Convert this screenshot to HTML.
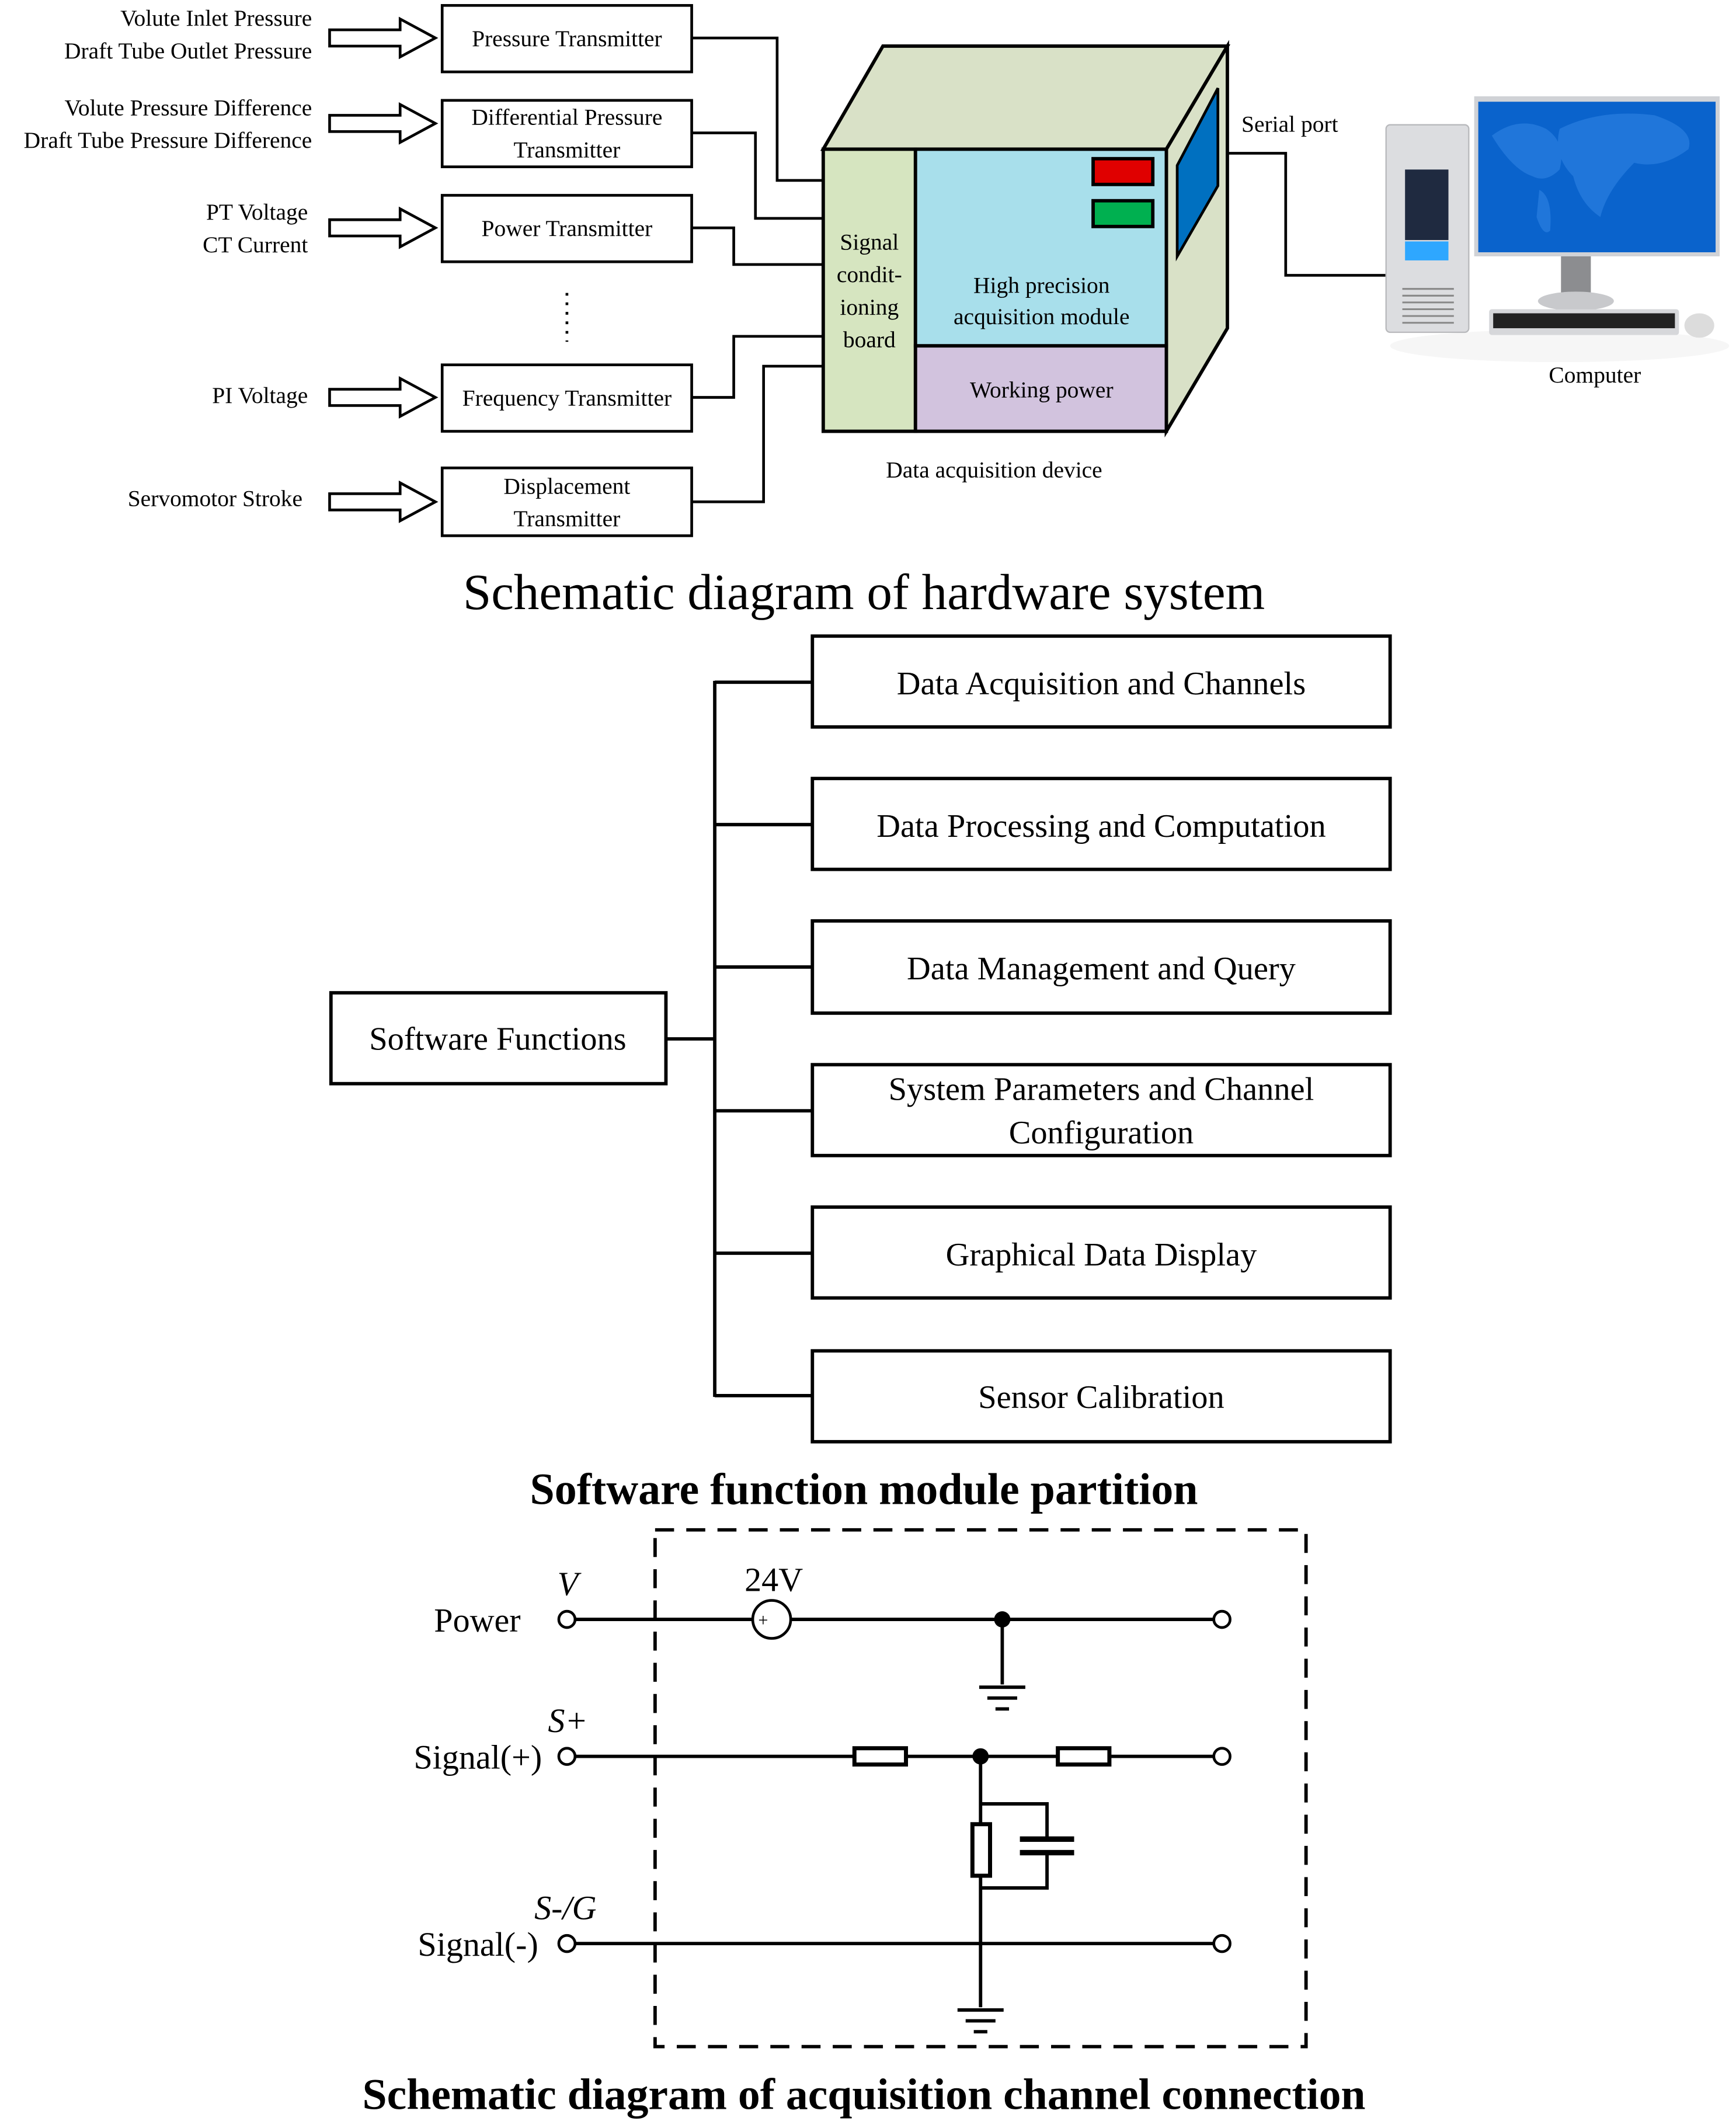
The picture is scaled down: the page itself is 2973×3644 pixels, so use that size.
<!DOCTYPE html>
<html><head><meta charset="utf-8"><style>
html,body{margin:0;padding:0;background:#fff;}
svg{display:block;}
text{font-family:"Liberation Serif",serif;fill:#000;}
</style></head><body>
<svg width="2973" height="3644" viewBox="0 0 1280 1569" xmlns="http://www.w3.org/2000/svg">
<rect width="1280" height="1569" fill="#fff"/>
<defs>
<g id="arr"><polygon points="0,-6 52,-6 52,-14 78,0 52,14 52,6 0,6" fill="#fff" stroke="#000" stroke-width="2"/></g>
</defs>
<g font-size="17" text-anchor="end">
<text x="230" y="19">Volute Inlet Pressure</text>
<text x="230" y="43">Draft Tube Outlet Pressure</text>
<text x="230" y="85">Volute Pressure Difference</text>
<text x="230" y="109">Draft Tube Pressure Difference</text>
<text x="227" y="162">PT Voltage</text>
<text x="227" y="186">CT Current</text>
<text x="227" y="297">PI Voltage</text>
<text x="223" y="373">Servomotor Stroke</text>
</g>
<use href="#arr" x="243" y="28"/>
<use href="#arr" x="243" y="91"/>
<use href="#arr" x="243" y="168"/>
<use href="#arr" x="243" y="293"/>
<use href="#arr" x="243" y="370"/>
<g fill="#fff" stroke="#000" stroke-width="2">
<rect x="326" y="4" width="184" height="49"/>
<rect x="326" y="74" width="184" height="49"/>
<rect x="326" y="144" width="184" height="49"/>
<rect x="326" y="269" width="184" height="49"/>
<rect x="326" y="345" width="184" height="50"/>
</g>
<g font-size="17" text-anchor="middle">
<text x="418" y="34">Pressure Transmitter</text>
<text x="418" y="92">Differential Pressure</text>
<text x="418" y="116">Transmitter</text>
<text x="418" y="174">Power Transmitter</text>
<text x="418" y="299">Frequency Transmitter</text>
<text x="418" y="364">Displacement</text>
<text x="418" y="388">Transmitter</text>
</g>
<line x1="418" y1="216" x2="418" y2="252" stroke="#000" stroke-width="2" stroke-dasharray="2,5"/>
<g fill="none" stroke="#000" stroke-width="2">
<polyline points="510,28 573,28 573,133 607,133"/>
<polyline points="510,98 557,98 557,161 607,161"/>
<polyline points="510,168 541,168 541,195 607,195"/>
<polyline points="510,293 541,293 541,248 607,248"/>
<polyline points="510,370 563,370 563,270 607,270"/>
<polyline points="905,113 948,113 948,203 1025,203"/>
</g>
<g stroke="#000" stroke-width="2.5">
<polygon points="607,110 651,34 905,34 860,110" fill="#d9e1c7"/>
<polygon points="860,110 905,34 905,242 860,318" fill="#d9e1c7"/>
<rect x="607" y="110" width="68" height="208" fill="#d6e5c0"/>
<rect x="675" y="110" width="185" height="145" fill="#a8dfeb"/>
<rect x="675" y="255" width="185" height="63" fill="#d2c3de"/>
<polygon points="868,122 898,65 898,137 868,189" fill="#0070c0" stroke-width="2"/>
<rect x="806" y="117" width="44" height="19" fill="#e00000"/>
<rect x="806" y="148" width="44" height="19" fill="#00b050"/>
</g>
<g font-size="17" text-anchor="middle">
<text x="641" y="184">Signal</text>
<text x="641" y="208">condit-</text>
<text x="641" y="232">ioning</text>
<text x="641" y="256">board</text>
<text x="768" y="216">High precision</text>
<text x="768" y="239">acquisition module</text>
<text x="768" y="293">Working power</text>
<text x="733" y="352">Data acquisition device</text>
<text x="951" y="97">Serial port</text>
<text x="1176" y="282">Computer</text>
</g>
<ellipse cx="1150" cy="255" rx="125" ry="12" fill="#f6f6f6"/>
<rect x="1022" y="92" width="61" height="153" rx="3" fill="#dcdde0" stroke="#b8b9bc"/>
<rect x="1036" y="125" width="32" height="52" fill="#1f2a40"/>
<rect x="1036" y="178" width="32" height="14" fill="#2ea7ff"/>
<g stroke="#888" stroke-width="1.3">
<line x1="1034" y1="213" x2="1072" y2="213"/><line x1="1034" y1="218" x2="1072" y2="218"/><line x1="1034" y1="223" x2="1072" y2="223"/><line x1="1034" y1="228" x2="1072" y2="228"/><line x1="1034" y1="233" x2="1072" y2="233"/><line x1="1034" y1="238" x2="1072" y2="238"/>
</g>
<rect x="1087" y="71" width="181" height="118" fill="#d0d2d6"/>
<rect x="1090" y="75" width="175" height="111" fill="#0a63cc"/>
<path d="M1100,100 q20,-15 40,-5 q15,10 10,30 q-10,10 -20,5 q-15,-5 -30,-30 Z M1150,95 q30,-15 70,-10 q30,10 25,25 q-20,15 -40,10 q-20,20 -25,40 q-15,-10 -20,-30 q-15,-15 -10,-35 Z M1135,140 q10,5 8,30 q-5,5 -10,-10 Z" fill="#2a7fe0" opacity="0.7"/>
<rect x="1151" y="189" width="22" height="30" fill="#8c8d90"/>
<ellipse cx="1162" cy="222" rx="28" ry="7" fill="#c8c9cc"/>
<rect x="1098" y="228" width="140" height="19" rx="2" fill="#d6d7da"/>
<rect x="1101" y="231" width="134" height="11" fill="#222"/>
<ellipse cx="1253" cy="240" rx="11" ry="9" fill="#dcdcdc"/>
<text x="637" y="449" font-size="37.5" text-anchor="middle">Schematic diagram of hardware system</text>
<g fill="#fff" stroke="#000" stroke-width="2.5">
<rect x="599" y="469" width="426" height="67"/>
<rect x="599" y="574" width="426" height="67"/>
<rect x="599" y="679" width="426" height="68"/>
<rect x="599" y="785" width="426" height="67"/>
<rect x="599" y="890" width="426" height="67"/>
<rect x="599" y="996" width="426" height="67"/>
<rect x="244" y="732" width="247" height="67"/>
</g>
<g fill="none" stroke="#000" stroke-width="2.5">
<polyline points="491,766 527,766"/>
<line x1="527" y1="502" x2="527" y2="1030"/>
<line x1="527" y1="503" x2="599" y2="503"/>
<line x1="527" y1="608" x2="599" y2="608"/>
<line x1="527" y1="713" x2="599" y2="713"/>
<line x1="527" y1="819" x2="599" y2="819"/>
<line x1="527" y1="924" x2="599" y2="924"/>
<line x1="527" y1="1029" x2="599" y2="1029"/>
</g>
<g font-size="24.3" text-anchor="middle">
<text x="812" y="512">Data Acquisition and Channels</text>
<text x="812" y="617">Data Processing and Computation</text>
<text x="812" y="722">Data Management and Query</text>
<text x="812" y="811">System Parameters and Channel</text>
<text x="812" y="843">Configuration</text>
<text x="812" y="933">Graphical Data Display</text>
<text x="812" y="1038">Sensor Calibration</text>
<text x="367" y="774">Software Functions</text>
</g>
<text x="637" y="1109" font-size="32.7" font-weight="bold" text-anchor="middle">Software function module partition</text>
<rect x="483" y="1128" width="480" height="381" fill="none" stroke="#000" stroke-width="2.5" stroke-dasharray="14,9"/>
<g fill="none" stroke="#000" stroke-width="2.5">
<line x1="424" y1="1194" x2="895" y2="1194"/>
<line x1="424" y1="1295" x2="895" y2="1295"/>
<line x1="424" y1="1433" x2="895" y2="1433"/>
<line x1="739" y1="1194" x2="739" y2="1242"/>
<line x1="722" y1="1244" x2="756" y2="1244"/><line x1="728" y1="1252" x2="750" y2="1252"/><line x1="734" y1="1260" x2="744" y2="1260"/>
<line x1="723" y1="1295" x2="723" y2="1480"/>
<line x1="706" y1="1482" x2="740" y2="1482"/><line x1="712" y1="1490" x2="734" y2="1490"/><line x1="718" y1="1498" x2="728" y2="1498"/>
<polyline points="723,1330 772,1330 772,1356"/>
<polyline points="723,1392 772,1392 772,1366"/>
<line x1="752" y1="1356" x2="792" y2="1356" stroke-width="4"/>
<line x1="752" y1="1366" x2="792" y2="1366" stroke-width="4"/>
</g>
<g fill="#fff" stroke="#000" stroke-width="3">
<rect x="630" y="1289" width="38" height="12"/>
<rect x="780" y="1289" width="38" height="12"/>
<rect x="717" y="1345" width="13" height="38"/>
<circle cx="569" cy="1194" r="14" stroke-width="2"/>
</g>
<text x="559" y="1199" font-size="13">+</text>
<g fill="#fff" stroke="#000" stroke-width="2">
<circle cx="418" cy="1194" r="6"/><circle cx="901" cy="1194" r="6"/>
<circle cx="418" cy="1295" r="6"/><circle cx="901" cy="1295" r="6"/>
<circle cx="418" cy="1433" r="6"/><circle cx="901" cy="1433" r="6"/>
</g>
<circle cx="739" cy="1194" r="6" fill="#000"/>
<circle cx="723" cy="1295" r="6" fill="#000"/>
<g font-size="25">
<text x="320" y="1203">Power</text>
<text x="305" y="1304">Signal(+)</text>
<text x="308" y="1442">Signal(-)</text>
<text x="549" y="1173">24V</text>
<text x="411" y="1176" font-style="italic">V</text>
<text x="404" y="1277" font-style="italic">S+</text>
<text x="394" y="1415" font-style="italic">S-/G</text>
</g>
<text x="637" y="1555" font-size="32.6" font-weight="bold" text-anchor="middle">Schematic diagram of acquisition channel connection</text>
</svg>
</body></html>
